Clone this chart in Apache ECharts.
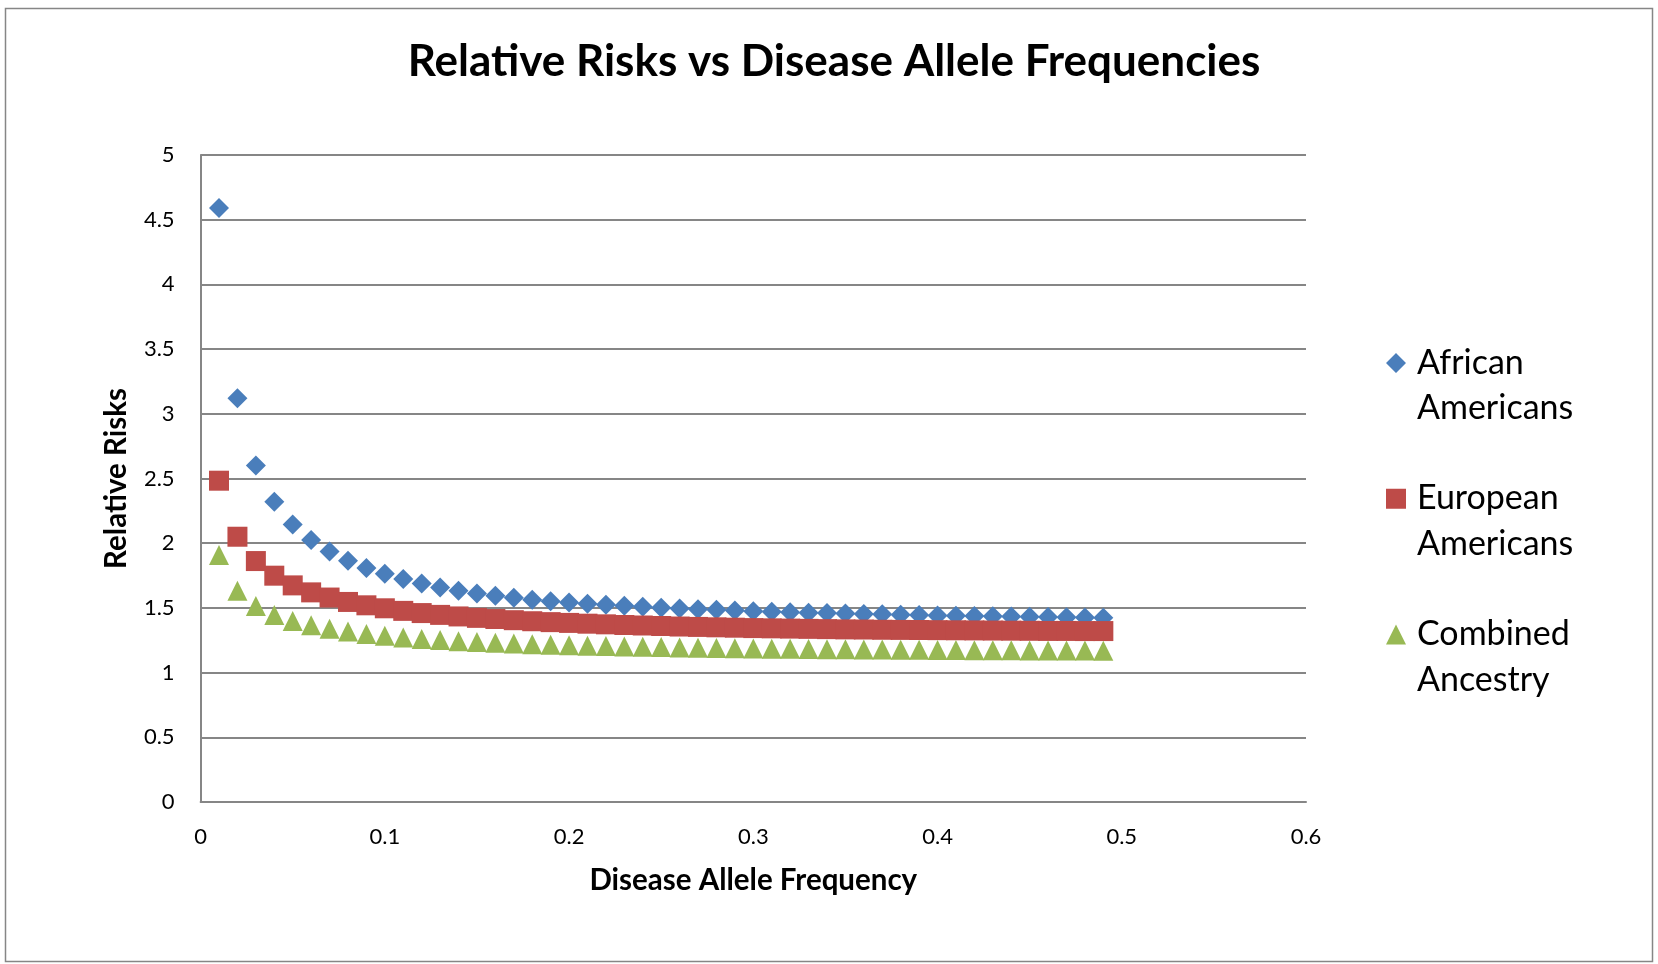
<!DOCTYPE html>
<html>
<head>
<meta charset="utf-8">
<title>Relative Risks vs Disease Allele Frequencies</title>
<script src="https://cdn.jsdelivr.net/npm/echarts@6/dist/echarts.min.js"></script>
<style>
  html, body { margin: 0; padding: 0; background: #ffffff; }
  #chart { width: 1658px; height: 964px; }
</style>
</head>
<body>
<div id="chart"></div>
<script>
// Disease allele frequencies (x values)
const frequencies = [
  0.01, 0.02, 0.03, 0.04, 0.05, 0.06, 0.07, 0.08, 0.09, 0.10,
  0.11, 0.12, 0.13, 0.14, 0.15, 0.16, 0.17, 0.18, 0.19, 0.20,
  0.21, 0.22, 0.23, 0.24, 0.25, 0.26, 0.27, 0.28, 0.29, 0.30,
  0.31, 0.32, 0.33, 0.34, 0.35, 0.36, 0.37, 0.38, 0.39, 0.40,
  0.41, 0.42, 0.43, 0.44, 0.45, 0.46, 0.47, 0.48, 0.49
];

// Relative risks per ancestry group
const africanAmericans = [
  4.59, 3.12, 2.60, 2.32, 2.145, 2.025, 1.935, 1.865, 1.808, 1.763,
  1.723, 1.688, 1.658, 1.633, 1.612, 1.594, 1.578, 1.563, 1.551, 1.542,
  1.533, 1.524, 1.516, 1.509, 1.502, 1.496, 1.490, 1.485, 1.480, 1.475,
  1.471, 1.467, 1.463, 1.460, 1.456, 1.453, 1.450, 1.447, 1.445, 1.442,
  1.440, 1.437, 1.435, 1.433, 1.431, 1.429, 1.428, 1.426, 1.424
];
const europeanAmericans = [
  2.483, 2.050, 1.862, 1.749, 1.674, 1.620, 1.580, 1.546, 1.520, 1.497,
  1.477, 1.460, 1.446, 1.434, 1.423, 1.414, 1.405, 1.397, 1.390, 1.384,
  1.378, 1.373, 1.368, 1.364, 1.360, 1.356, 1.353, 1.350, 1.347, 1.344,
  1.342, 1.340, 1.338, 1.336, 1.334, 1.333, 1.331, 1.330, 1.329, 1.328,
  1.327, 1.326, 1.325, 1.324, 1.323, 1.322, 1.322, 1.321, 1.321
];
const combinedAncestry = [
  1.909, 1.633, 1.515, 1.445, 1.399, 1.365, 1.339, 1.317, 1.299, 1.284,
  1.271, 1.260, 1.251, 1.243, 1.236, 1.230, 1.225, 1.220, 1.216, 1.212,
  1.208, 1.205, 1.202, 1.199, 1.197, 1.194, 1.192, 1.190, 1.188, 1.187,
  1.185, 1.184, 1.182, 1.181, 1.180, 1.179, 1.178, 1.177, 1.176, 1.175,
  1.174, 1.173, 1.173, 1.172, 1.171, 1.171, 1.170, 1.170, 1.169
];

const seriesNames = ['African\nAmericans', 'European\nAmericans', 'Combined\nAncestry'];
const seriesColors = ['#4a7ebb', '#be4b48', '#98b954'];

function pairs(ys) {
  return frequencies.map((f, i) => [f, ys[i]]);
}

// Legend icons: marker sits beside the first text line; tiny corner specks fix the icon box
const box = ' M0,0 L0.01,0 L0,0.01 Z M26,91 L25.99,91 L26,90.99 Z';
const legendIcons = [
  'path://M10,13 L20,23 L10,33 L0,23 Z' + box,
  'path://M0,13 L20,13 L20,33 L0,33 Z' + box,
  'path://M10,13 L20,33 L0,33 Z' + box
];

const FONT = 'Lato, "Open Sans", sans-serif';
const chart = echarts.init(document.getElementById('chart'), null, { renderer: 'canvas' });

chart.setOption({
  backgroundColor: '#ffffff',
  animation: false,
  title: {
    text: 'Relative Risks vs Disease Allele Frequencies',
    left: 829,
    textAlign: 'center',
    top: 35,
    textStyle: { fontFamily: FONT, fontWeight: 'bold', fontSize: 44, color: '#000000' }
  },
  graphic: [{
    type: 'rect',
    shape: { x: 5.5, y: 8.5, width: 1647, height: 953 },
    style: { fill: 'none', stroke: '#868686', lineWidth: 1.5 },
    silent: true
  }],
  grid: { left: 200.6, right: 352, top: 155, bottom: 162, containLabel: false },
  xAxis: {
    type: 'value',
    min: 0, max: 0.6, interval: 0.1,
    name: 'Disease Allele Frequency',
    nameLocation: 'middle',
    nameGap: 63,
    nameTextStyle: { fontFamily: FONT, fontWeight: 'bold', fontSize: 29.5, color: '#000000' },
    axisLine: { show: true, onZero: false, lineStyle: { color: '#868686', width: 2 } },
    axisTick: { show: false },
    axisLabel: { fontFamily: FONT, fontSize: 22, color: '#000000', margin: 24 },
    splitLine: { show: false }
  },
  yAxis: {
    type: 'value',
    min: 0, max: 5, interval: 0.5,
    name: 'Relative Risks',
    nameLocation: 'middle',
    nameGap: 69,
    nameRotate: 90,
    nameTextStyle: { fontFamily: FONT, fontWeight: 'bold', fontSize: 29.5, color: '#000000' },
    axisLine: { show: true, lineStyle: { color: '#868686', width: 2 } },
    axisTick: { show: false },
    axisLabel: { fontFamily: FONT, fontSize: 22, color: '#000000', margin: 26 },
    splitLine: { show: true, lineStyle: { color: '#868686', width: 2 } }
  },
  legend: {
    orient: 'vertical',
    left: 1386,
    top: 340,
    padding: 0,
    itemWidth: 26,
    itemHeight: 91,
    itemGap: 44.5,
    selectedMode: false,
    textStyle: { fontFamily: FONT, fontSize: 34, color: '#000000', lineHeight: 45.6 },
    data: seriesNames.map((n, i) => ({ name: n, icon: legendIcons[i] }))
  },
  series: [
    {
      name: seriesNames[0], type: 'scatter', symbol: 'diamond', symbolSize: 20,
      itemStyle: { color: seriesColors[0], opacity: 1 },
      data: pairs(africanAmericans)
    },
    {
      name: seriesNames[1], type: 'scatter', symbol: 'rect', symbolSize: 20,
      itemStyle: { color: seriesColors[1], opacity: 1 },
      data: pairs(europeanAmericans)
    },
    {
      name: seriesNames[2], type: 'scatter', symbol: 'triangle', symbolSize: 20,
      itemStyle: { color: seriesColors[2], opacity: 1 },
      data: pairs(combinedAncestry)
    }
  ]
});
</script>
</body>
</html>
